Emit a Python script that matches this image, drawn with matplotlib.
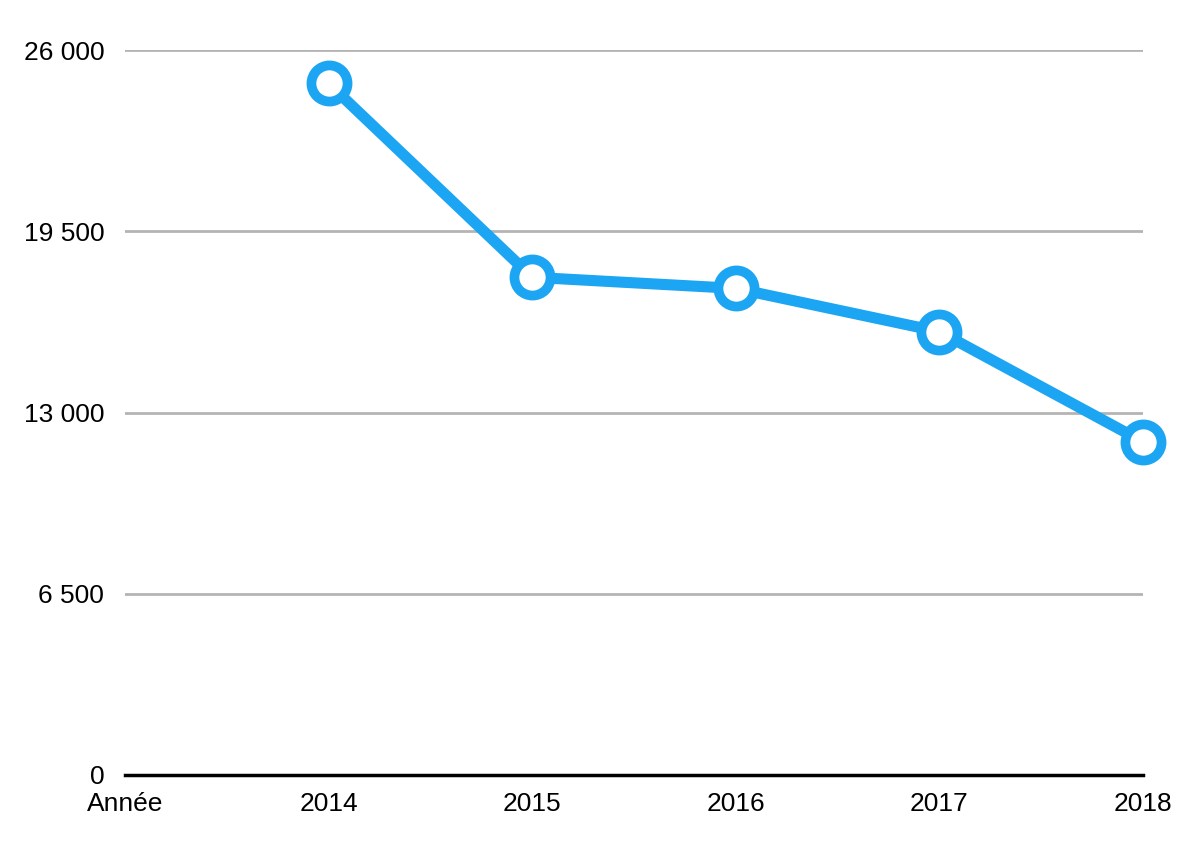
import matplotlib
matplotlib.use('Agg')
from matplotlib import pyplot as plt

categories = ['Année', '2014', '2015', '2016', '2017', '2018']
annees = [1, 2, 3, 4, 5]
valeurs = [24800, 17850, 17450, 15900, 11950]
yticks = [0, 6500, 13000, 19500, 26000]
ylabels = ['0', '6 500', '13 000', '19 500', '26 000']

plt.rcParams['font.family'] = ['Liberation Sans', 'DejaVu Sans']

fig = plt.figure(figsize=(12, 8.52), dpi=100)
ax = fig.add_axes([125/1200, 77/852, 1018/1200, 725/852])

ax.plot(annees, valeurs, '-o', color='#1ca5f3', lw=8, ms=26,
        mfc='white', mec='#1ca5f3', mew=7, clip_on=False, zorder=3)

ax.set_xlim(0, 5)
ax.set_ylim(0, 26000)
ax.set_yticks(yticks)
ax.set_yticklabels(ylabels)
ax.set_xticks(range(len(categories)))
ax.set_xticklabels(categories)
ax.grid(axis='y', color='#b4b4b4', lw=2)
ax.set_axisbelow(True)
for s in ['top', 'right', 'left']:
    ax.spines[s].set_visible(False)
ax.spines['bottom'].set_linewidth(2.5)
ax.tick_params(length=0, labelsize=19)
ax.tick_params(axis='y', pad=15)
ax.tick_params(axis='x', pad=12)

fig.savefig('out.png')
